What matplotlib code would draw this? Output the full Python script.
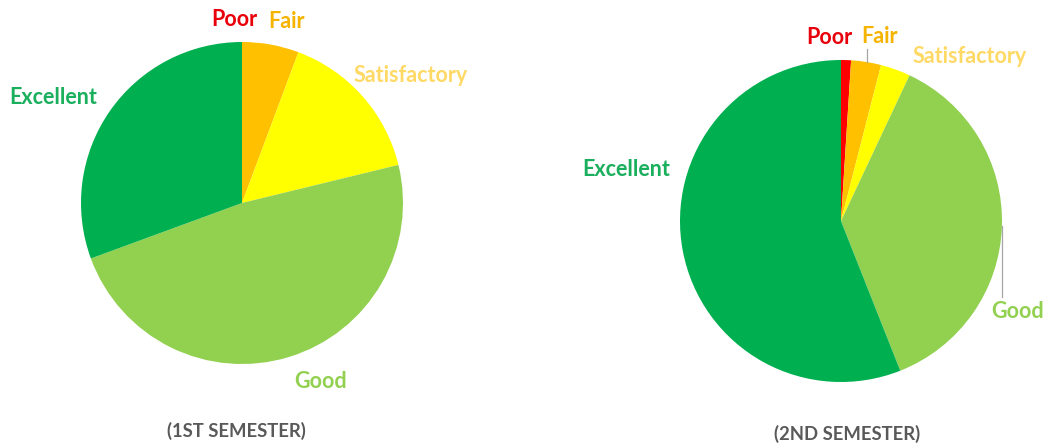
import matplotlib
matplotlib.use("Agg")
import matplotlib.pyplot as plt

categories = ["Poor", "Fair", "Satisfactory", "Good", "Excellent"]
sem1_values = [0, 5.7, 15.5, 48.2, 30.6]
sem2_values = [1.0, 3.0, 3.0, 37.0, 56.0]
titles = ["(1ST SEMESTER)", "(2ND SEMESTER)"]

slice_colors = ["#FF0000", "#FFC000", "#FFFF00", "#92D050", "#00B050"]
label_colors = ["#E8000B", "#F5B400", "#FFD966", "#92D050", "#1AAF5D"]

plt.rcParams['font.family'] = ['Lato', 'DejaVu Sans']

W, H = 1045, 444
fig = plt.figure(figsize=(W / 100, H / 100), dpi=100)

R = 161


def make_ax(cx, cy):
    ax = fig.add_axes([(cx - R) / W, (H - cy - R) / H, 2 * R / W, 2 * R / H])
    return ax


def px2d(cx, cy, px, py):
    return (px - cx) / R, (cy - py) / R


pies = [
    dict(cx=242, cy=203, values=sem1_values,
         label_pos=[(234, 20), (286, 21), (411, 75), (321, 382), (53.5, 97)],
         title_pos=(236, 431), leaders=[]),
    dict(cx=841, cy=221, values=sem2_values,
         label_pos=[(829, 37), (879.5, 36), (970, 56), (1018, 312), (626.5, 169.5)],
         title_pos=(847, 434),
         leaders=[((866.7, 49), (866.7, 62)), ((1001.7, 226), (1001.7, 297))]),
]

for i, p in enumerate(pies):
    ax = make_ax(p["cx"], p["cy"])
    ax.pie(p["values"], colors=slice_colors, startangle=90, counterclock=False,
           radius=1, wedgeprops=dict(linewidth=0))
    ax.set_xlim(-1, 1)
    ax.set_ylim(-1, 1)
    ax.set_aspect("equal")
    ax.axis("off")
    for name, col, (lx, ly) in zip(categories, label_colors, p["label_pos"]):
        x, y = px2d(p["cx"], p["cy"], lx, ly)
        ax.text(x, y, name, color=col, fontsize=15.5, fontweight="bold",
                ha="center", va="center", clip_on=False)
    for (a, b) in p["leaders"]:
        x0, y0 = px2d(p["cx"], p["cy"], *a)
        x1, y1 = px2d(p["cx"], p["cy"], *b)
        ax.plot([x0, x1], [y0, y1], color="#A6A6A6", linewidth=0.9, clip_on=False)
    tx, ty = px2d(p["cx"], p["cy"], *p["title_pos"])
    ax.text(tx, ty, titles[i], color="#595959", fontsize=13.3,
            fontweight="bold", ha="center", va="center", clip_on=False)

fig.savefig("out.png", dpi=100, facecolor="white")
